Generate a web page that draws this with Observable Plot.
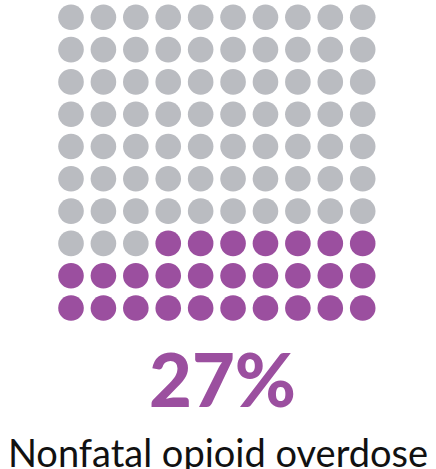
<!DOCTYPE html>
<html>
<head>
<meta charset="utf-8">
<script src="https://cdn.jsdelivr.net/npm/d3@7"></script>
<script src="https://cdn.jsdelivr.net/npm/@observablehq/plot@0.6"></script>
<style>
  html, body { margin: 0; padding: 0; background: #fff; }
  #wrap { position: relative; width: 436px; height: 469px; overflow: hidden; }
  #chart { position: absolute; left: 0; top: 0; }
  .pct { position: absolute; left: 0; width: 436px; text-align: center;
         font-family: Lato, "Open Sans", sans-serif; font-weight: 900; color: #9b4f9f;
         font-size: 74px; line-height: 74px; top: 342px; padding-left: 9px; box-sizing: border-box; }
  .cap { position: absolute; left: 0; width: 436px; text-align: center;
         font-family: Lato, "Open Sans", sans-serif; font-weight: 400; color: #111;
         font-size: 38px; line-height: 38px; top: 433px; white-space: nowrap; }
</style>
</head>
<body>
<div id="wrap">
  <div id="chart"></div>
  <div class="pct" id="pct"></div>
  <div class="cap" id="cap"></div>
</div>
<script>
const total = 100;
const columns = 10;
const value = 27;
const valueLabel = "27%";
const caption = "Nonfatal opioid overdose";
const categories = ["Other", "Nonfatal opioid overdose"];
const colors = ["#babcc1", "#9b4f9f"];

const rows = total / columns;
const cells = d3.range(total).map(i => ({
  col: i % columns,
  row: Math.floor(i / columns),
  cat: i >= total - value ? categories[1] : categories[0]
}));

const chart = Plot.plot({
  width: 436,
  height: 330,
  marginLeft: 70.5,
  marginRight: 73.8,
  marginTop: 16.8,
  marginBottom: 22.5,
  x: { domain: [0, columns - 1], axis: null },
  y: { domain: [0, rows - 1], axis: null, reverse: true },
  color: { domain: categories, range: colors },
  marks: [
    Plot.dot(cells, { x: "col", y: "row", r: 12.8, fill: "cat", stroke: null })
  ]
});
document.getElementById("chart").appendChild(chart);
document.getElementById("pct").textContent = valueLabel;
document.getElementById("cap").textContent = caption;
</script>
</body>
</html>
